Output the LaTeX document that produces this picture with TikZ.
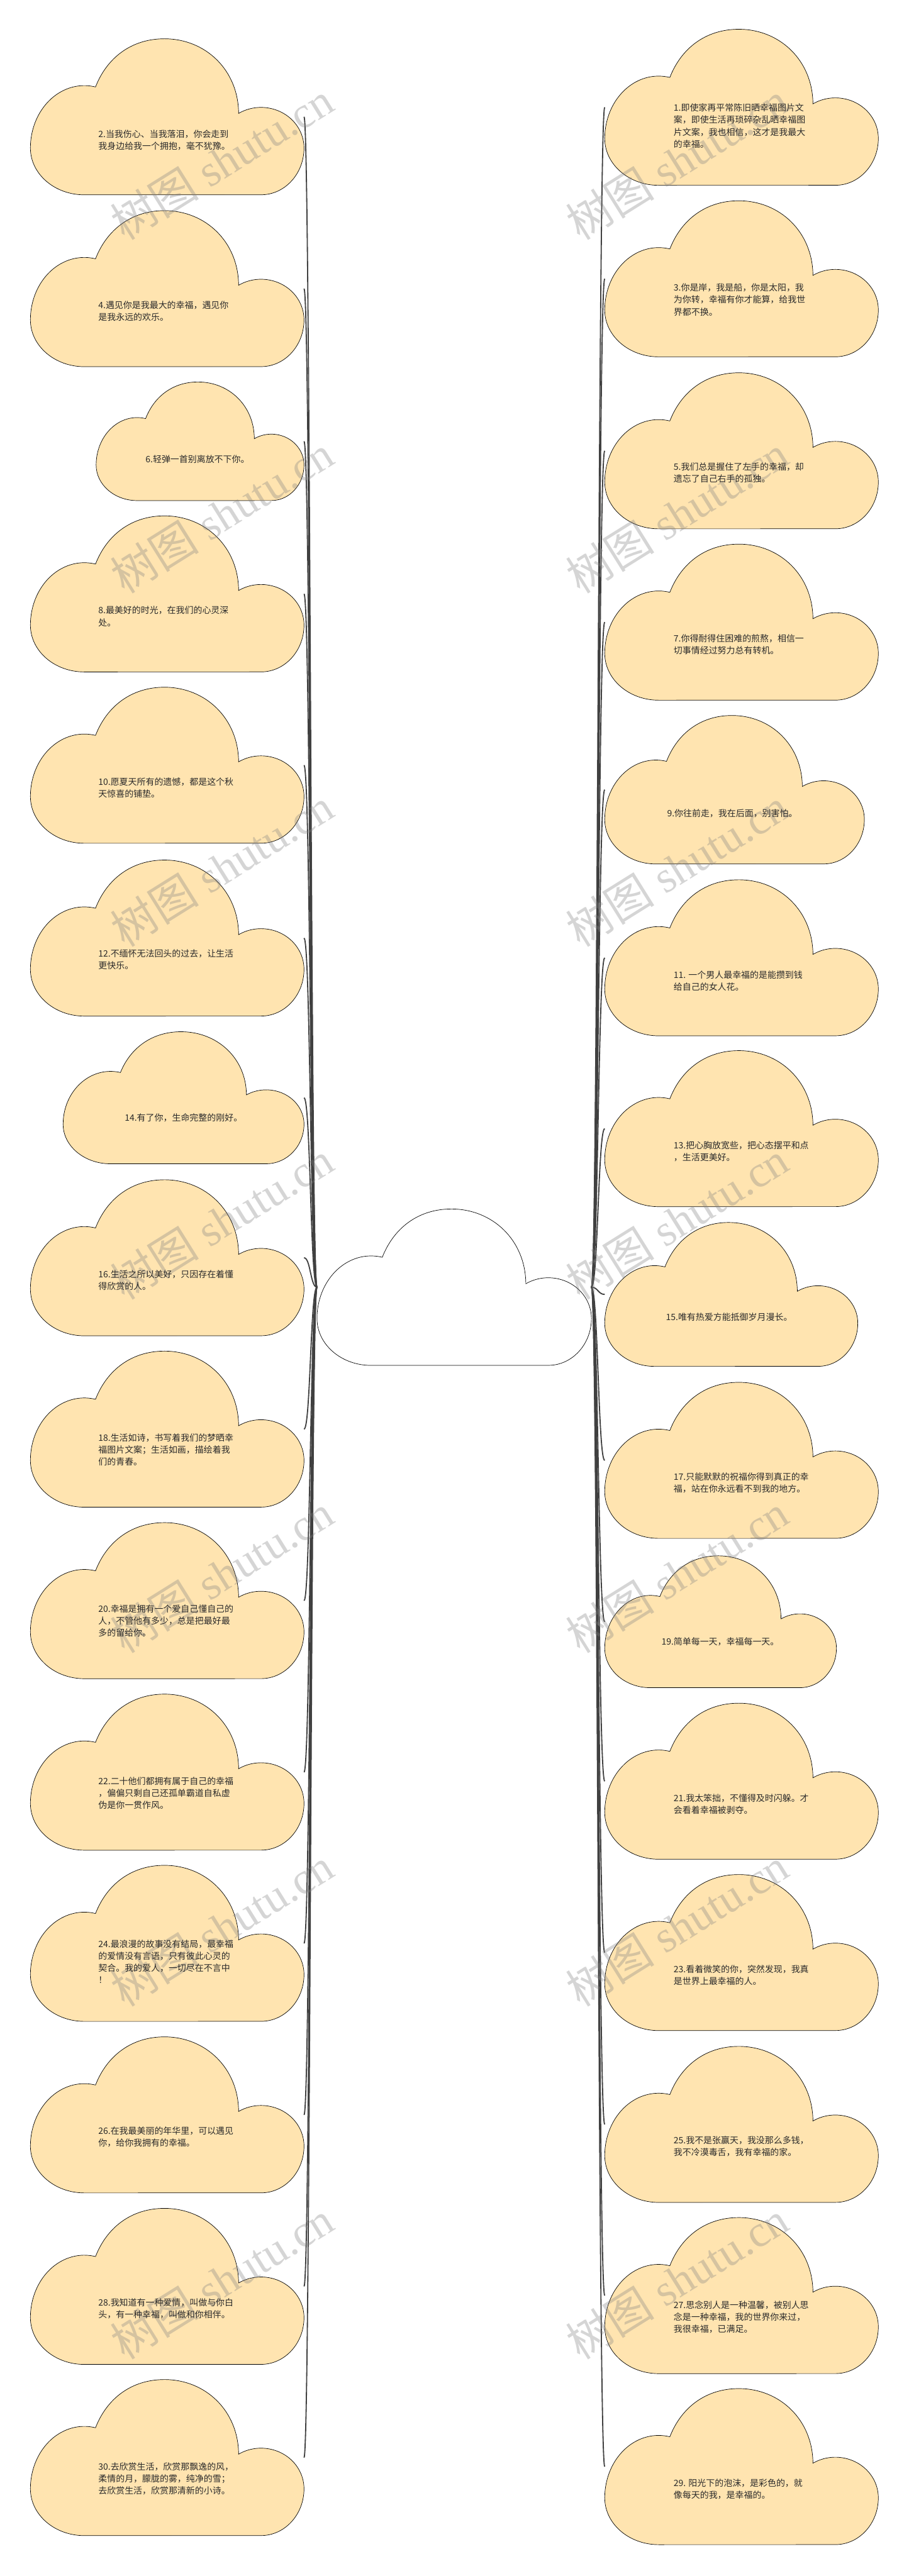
\documentclass[tikz,border=0pt]{standalone}
\usepackage{fontspec}
\setmainfont{Noto Sans CJK SC}
\newfontfamily\wmcjk{Noto Sans CJK SC}
\newfontfamily\wmlat{Liberation Serif}
\definecolor{cloudfill}{HTML}{FFE4B0}
\definecolor{linecol}{HTML}{404040}
\definecolor{txtcol}{HTML}{2A2A2A}
\pgfdeclarelayer{back}
\pgfdeclarelayer{bg}
\pgfdeclarelayer{wm}
\pgfdeclarelayer{fg}
\pgfsetlayers{back,bg,main,wm,fg}
\tikzset{
  cloudline/.style={draw=black, line width=0.75pt},
  boxnode/.style={rectangle, draw=none, fill=none, inner sep=0pt, outer sep=0pt},
  conn/.style={draw=linecol, line width=2pt},
  wide/.style={anchor=north west, align=left, inner sep=0pt, text=txtcol, font=\fontsize{15.2}{20.8}\selectfont},
  narrow/.style={anchor=base, inner sep=0pt, text=txtcol, font=\fontsize{15.2}{20.8}\selectfont},
  wmark/.style={anchor=base west, rotate=32, inner sep=0pt, text=gray, opacity=0.33, font=\fontsize{77}{80}\selectfont},
}
\newcommand\mkcloud[6]{%
  \begin{scope}[shift={(#2,#3+#5)},xscale=#4,yscale=-#5]
    \path[cloudline,fill=#6] (0.197,0)
      arc[start angle=270,end angle=180,x radius=0.197,y radius=0.30]
      arc[start angle=180,end angle=78,x radius=0.197,y radius=0.40]
      .. controls (0.28,0.88) and (0.37,1.0) .. (0.49,1.0)
      .. controls (0.64,1.0) and (0.76,0.80) .. (0.761,0.522)
      arc[start angle=121.5,end angle=0,x radius=0.157,y radius=0.26]
      arc[start angle=0,end angle=-90,x radius=0.157,y radius=0.30]
      -- cycle;
  \end{scope}
  \node[boxnode,minimum width=#4mm,minimum height=#5mm] (#1) at (#2+#4/2,#3+#5/2) {};
}
\begin{document}
\begin{tikzpicture}[x=1mm,y=-1mm]
\begin{pgfonlayer}{back}
\fill[white] (0,0) rectangle (553,1568);
\end{pgfonlayer}
\useasboundingbox (0,0) rectangle (553,1568);

% centre
\mkcloud{cc}{192.9}{735.9}{167}{95.2}{white}

% left column
\mkcloud{c2}{18.5}{23.6}{166.5}{95}{cloudfill}
\mkcloud{c4}{18.5}{128.2}{166.5}{95}{cloudfill}
\mkcloud{c6}{58.5}{232.5}{126.5}{72.2}{cloudfill}
\mkcloud{c8}{18.5}{314}{166.5}{95}{cloudfill}
\mkcloud{c10}{18.5}{418.3}{166.5}{95}{cloudfill}
\mkcloud{c12}{18.5}{523.5}{166.5}{95}{cloudfill}
\mkcloud{c14}{38.4}{628}{146.6}{80.4}{cloudfill}
\mkcloud{c16}{18.5}{718.1}{166.5}{95}{cloudfill}
\mkcloud{c18}{18.5}{822.4}{166.5}{95}{cloudfill}
\mkcloud{c20}{18.5}{926.8}{166.5}{95}{cloudfill}
\mkcloud{c22}{18.5}{1031.2}{166.5}{95}{cloudfill}
\mkcloud{c24}{18.5}{1135.4}{166.5}{95}{cloudfill}
\mkcloud{c26}{18.5}{1239.8}{166.5}{95}{cloudfill}
\mkcloud{c28}{18.5}{1344.2}{166.5}{95}{cloudfill}
\mkcloud{c30}{18.5}{1448.4}{166.5}{95}{cloudfill}

% right column
\mkcloud{c1}{368}{17.8}{166.5}{95}{cloudfill}
\mkcloud{c3}{368}{122.2}{166.5}{95}{cloudfill}
\mkcloud{c5}{368}{226.9}{166.5}{95}{cloudfill}
\mkcloud{c7}{368}{331.2}{166.5}{95}{cloudfill}
\mkcloud{c9}{368}{435.5}{158}{90.4}{cloudfill}
\mkcloud{c11}{368}{535.5}{166.5}{95}{cloudfill}
\mkcloud{c13}{368}{639.5}{166.5}{95}{cloudfill}
\mkcloud{c15}{368}{744.1}{154}{87.6}{cloudfill}
\mkcloud{c17}{368}{841.4}{166.5}{95}{cloudfill}
\mkcloud{c19}{368}{947}{141}{80.3}{cloudfill}
\mkcloud{c21}{368}{1036.7}{166.5}{95}{cloudfill}
\mkcloud{c23}{368}{1141}{166.5}{95}{cloudfill}
\mkcloud{c25}{368}{1245.6}{166.5}{95}{cloudfill}
\mkcloud{c27}{368}{1349.8}{166.5}{95}{cloudfill}
\mkcloud{c29}{368}{1453.9}{166.5}{95}{cloudfill}

% connectors
\begin{pgfonlayer}{bg}
\foreach \n in {2,4,...,30}
  \draw[conn] (cc.west) .. controls ([xshift=-4mm]cc.west) and ([xshift=4mm]c\n.east) .. (c\n.east);
\foreach \n in {1,3,...,29}
  \draw[conn] (cc.east) .. controls ([xshift=4mm]cc.east) and ([xshift=-4mm]c\n.west) .. (c\n.west);
\end{pgfonlayer}

% watermark
\begin{pgfonlayer}{wm}
\foreach \k in {0,...,6}{
  \node[wmark] (wl\k) at (76,147+215*\k) {{\wmcjk 树图}{\wmlat\ shutu.cn}};
  \node[wmark] (wr\k) at (353,147+215*\k) {{\wmcjk 树图}{\wmlat\ shutu.cn}};
}
\end{pgfonlayer}

% texts
\begin{pgfonlayer}{fg}
\node[wide] (t2) at (59.8,78.3) {\strut 2.当我伤心、当我落泪，你会走到\\我身边给我一个拥抱，毫不犹豫。};
\node[wide] (t4) at (59.8,182.5) {\strut 4.遇见你是我最大的幸福，遇见你\\是我永远的欢乐。};
\node[narrow] (t6) at (120.2,281.4) {6.轻弹一首别离放不下你。};
\node[wide] (t8) at (59.8,368.4) {\strut 8.最美好的时光，在我们的心灵深\\处。};
\node[wide] (t10) at (59.8,472.9) {\strut 10.愿夏天所有的遗憾，都是这个秋\\天惊喜的铺垫。};
\node[wide] (t12) at (59.8,577.2) {\strut 12.不缅怀无法回头的过去，让生活\\更快乐。};
\node[narrow] (t14) at (111.7,682.5) {14.有了你，生命完整的刚好。};
\node[wide] (t16) at (59.8,772.6) {\strut 16.生活之所以美好，只因存在着懂\\得欣赏的人。};
\node[wide] (t18) at (59.8,871.9) {\strut 18.生活如诗，书写着我们的梦晒幸\\福图片文案；生活如画，描绘着我\\们的青春。};
\node[wide] (t20) at (59.8,976.0) {\strut 20.幸福是拥有一个爱自己懂自己的\\人，不管他有多少，总是把最好最\\多的留给你。};
\node[wide] (t22) at (59.8,1080.9) {\strut 22.二十他们都拥有属于自己的幸福\\，偏偏只剩自己还孤单霸道自私虚\\伪是你一贯作风。};
\node[wide] (t24) at (59.8,1180.0) {\strut 24.最浪漫的故事没有结局，最幸福\\的爱情没有言语，只有彼此心灵的\\契合。我的爱人，一切尽在不言中\\！};
\node[wide] (t26) at (59.8,1293.9) {\strut 26.在我最美丽的年华里，可以遇见\\你，给你我拥有的幸福。};
\node[wide] (t28) at (59.8,1398.2) {\strut 28.我知道有一种爱情，叫做与你白\\头，有一种幸福，叫做和你相伴。};
\node[wide] (t30) at (59.8,1498.2) {\strut 30.去欣赏生活，欣赏那飘逸的风，\\柔情的月，朦胧的雾，纯净的雪；\\去欣赏生活，欣赏那清新的小诗。};

\node[wide] (t1) at (409.9,62.5) {\strut 1.即使家再平常陈旧晒幸福图片文\\案，即使生活再琐碎杂乱晒幸福图\\片文案，我也相信，这才是我最大\\的幸福。};
\node[wide] (t3) at (409.9,172.0) {\strut 3.你是岸，我是船，你是太阳，我\\为你转，幸福有你才能算，给我世\\界都不换。};
\node[wide] (t5) at (409.9,281.0) {\strut 5.我们总是握住了左手的幸福，却\\遗忘了自己右手的孤独。};
\node[wide] (t7) at (409.9,385.5) {\strut 7.你得耐得住困难的煎熬，相信一\\切事情经过努力总有转机。};
\node[narrow] (t9) at (445.6,496.9) {9.你往前走，我在后面，别害怕。};
\node[wide] (t11) at (409.9,590.1) {\strut 11. 一个男人最幸福的是能攒到钱\\给自己的女人花。};
\node[wide] (t13) at (409.9,694.0) {\strut 13.把心胸放宽些，把心态摆平和点\\，生活更美好。};
\node[narrow] (t15) at (443.7,803.7) {15.唯有热爱方能抵御岁月漫长。};
\node[wide] (t17) at (409.9,895.6) {\strut 17.只能默默的祝福你得到真正的幸\\福，站在你永远看不到我的地方。};
\node[narrow] (t19) at (438.3,1001.4) {19.简单每一天，幸福每一天。};
\node[wide] (t21) at (409.9,1091.3) {\strut 21.我太笨拙，不懂得及时闪躲。才\\会看着幸福被剥夺。};
\node[wide] (t23) at (409.9,1195.4) {\strut 23.看着微笑的你，突然发现，我真\\是世界上最幸福的人。};
\node[wide] (t25) at (409.9,1299.6) {\strut 25.我不是张赢天，我没那么多钱，\\我不冷漠毒舌，我有幸福的家。};
\node[wide] (t27) at (409.9,1399.8) {\strut 27.思念别人是一种温馨，被别人思\\念是一种幸福，我的世界你来过，\\我很幸福，已满足。};
\node[wide] (t29) at (409.9,1508.1) {\strut 29. 阳光下的泡沫，是彩色的，就\\像每天的我，是幸福的。};
\end{pgfonlayer}
\end{tikzpicture}
\end{document}
